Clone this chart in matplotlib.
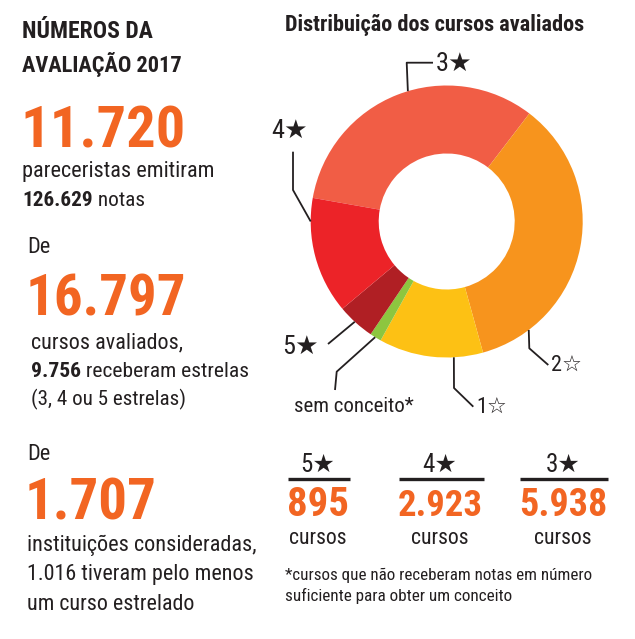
import matplotlib
matplotlib.use('Agg')
import matplotlib.pyplot as plt
import numpy as np
from matplotlib import font_manager

# --- dados ---
titulo = ['NÚMEROS DA', 'AVALIAÇÃO 2017']
pareceristas = '11.720'
notas = '126.629'
cursos_total = '16.797'
cursos_estrelas = '9.756'
instituicoes = '1.707'
inst_estrelas = '1.016'

# fatias do donut (em cursos)
fatias = ['3★', '2☆', '1☆', 'sem conceito*', '5★', '4★']
valores = [5480, 5930, 2080, 230, 750, 2330]
cores = ['#F15D45', '#F7941D', '#FDC114', '#8DC63F', '#B01F24', '#EC2328']

destaques = ['5★', '4★', '3★']
destaques_n = ['895', '2.923', '5.938']

laranja = '#F26522'
preto = '#231F20'

# procura uma fonte estreita, se houver
fm = font_manager.fontManager
nomes = {f.name for f in fm.ttflist}
fonte, largura = 'Roboto' if 'Roboto' in nomes else 'DejaVu Sans', 'normal'
for p in ['Liberation Sans Narrow', 'Roboto Condensed', 'Open Sans Condensed',
          'Noto Sans Condensed', 'Noto Sans SemiCondensed', 'DejaVu Sans Condensed']:
    if p in nomes:
        fonte = p
        break
else:
    cond = [f for f in fm.ttflist if f.stretch in ('condensed', 'semi-condensed')
            and f.name in ('Noto Sans', 'DejaVu Sans', 'Roboto', 'Open Sans', 'Liberation Sans')]
    if cond:
        fonte, largura = cond[0].name, cond[0].stretch
plt.rcParams['font.family'] = [fonte, 'DejaVu Sans']
plt.rcParams['font.stretch'] = largura

W, H = 635, 639
fig = plt.figure(figsize=(W / 100, H / 100), dpi=100)

# donut
cx, cy, R = 446.7, 221.5, 136
ax = fig.add_axes([(cx - R) / W, 1 - (cy + R) / H, 2 * R / W, 2 * R / H])
wedges, _ = ax.pie(valores, colors=cores, startangle=170, counterclock=False,
                   radius=1, wedgeprops=dict(width=0.5, linewidth=0))
ax.set_xlim(-1, 1)
ax.set_ylim(-1, 1)
ax.set_aspect('equal')
ax.axis('off')

# camada em pixels para textos e linhas
lay = fig.add_axes([0, 0, 1, 1])
lay.set_xlim(0, W)
lay.set_ylim(H, 0)
lay.axis('off')
rend = fig.canvas.get_renderer()


def txt(x, y, s, size, w=None, **kw):
    # w: largura do texto na referencia, em px; a fonte diminui se passar
    kw.setdefault('color', preto)
    kw.setdefault('va', 'baseline')
    t = lay.text(x, y, s, fontsize=size, **kw)
    if w:
        lw = t.get_window_extent(rend).width
        if lw > w:
            t.set_fontsize(size * w / lw)
    return t


def misto(x, y, partes, size, w):
    ts = [txt(x, y, s, size, fontweight=p) for s, p in partes]
    tot = sum(t.get_window_extent(rend).width for t in ts)
    k = min(1, w / tot)
    for t in ts:
        t.set_fontsize(size * k)
        t.set_x(x)
        x += t.get_window_extent(rend).width


# coluna esquerda
txt(22, 38.5, titulo[0], 17, 131, fontweight='bold')
txt(22, 72, titulo[1], 17, 160, fontweight='bold')
txt(20, 148, pareceristas, 47, 165, fontweight='bold', color=laranja)
txt(22, 176.5, 'pareceristas emitiram', 16, 196)
misto(22, 206, [(notas, 'bold'), (' notas', 'normal')], 16, 123)

txt(27, 253, 'De', 16, 24)
txt(26, 315, cursos_total, 49, 160, fontweight='bold', color=laranja)
txt(31, 348, 'cursos avaliados,', 16, 152)
misto(31, 377, [(cursos_estrelas, 'bold'), (' receberam estrelas', 'normal')], 16, 219)
txt(31, 405, '(3, 4 ou 5 estrelas)', 16, 156)

txt(27, 460, 'De', 16, 24)
txt(25, 520, instituicoes, 47, 132, fontweight='bold', color=laranja)
txt(27, 550.5, 'instituições consideradas,', 16, 232)
txt(27, 580, inst_estrelas + ' tiveram pelo menos', 16, 227)
txt(27, 610.5, 'um curso estrelado', 16, 168)

# titulo do grafico
txt(285, 30.5, 'Distribuição dos cursos avaliados', 17, 300, fontweight='bold')

# rotulos com linhas de chamada: (fracao dentro da fatia, cotovelos, posicao do texto, alinhamento, tamanho)
chamadas = [
    (0.46, [(406.7, 62.7), (433, 62.7)], (436, 71), 'left', 19),
    (0.17, [(529.3, 348.3), (548.3, 365)], (551, 371), 'left', 16),
    (0.72, [(454, 388), (473.3, 406.7)], (476, 413), 'left', 16),
    (0.46, [(336.7, 371.7), (335, 390)], (354, 412), 'center', 15),
    (0.47, [(328, 344)], (300, 354), 'center', 19),
    (0.20, [(293, 190), (293, 151.7)], (290, 138), 'center', 19),
]
larg_rot = [34, 30, 34, 128, 37, 35]
for w, nome, (f, pts, (tx, ty), ha, sz), lw_ in zip(wedges, fatias, chamadas, larg_rot):
    ang = np.deg2rad(w.theta1 + f * (w.theta2 - w.theta1))
    x0, y0 = cx + R * np.cos(ang), cy - R * np.sin(ang)
    xs = [x0] + [p[0] for p in pts]
    ys = [y0] + [p[1] for p in pts]
    lay.plot(xs, ys, color=preto, lw=1.3, solid_capstyle='butt')
    txt(tx, ty, nome, sz, lw_ + 4, ha=ha)

# destaques embaixo
centros = [318, 440, 563]
linhas = [(288, 350), (399, 484), (520, 608)]
for c, (a, b), rot, n in zip(centros, linhas, destaques, destaques_n):
    txt(c, 471.5, rot, 18, 40, ha='center')
    lay.plot([a, b], [478.5, 478.5], color=preto, lw=2.4, solid_capstyle='butt')
    txt(c, 516, n, 31, b - a, ha='center', fontweight='bold', color=laranja)
    txt(c, 544, 'cursos', 17, 58, ha='center')

txt(285, 580, '*cursos que não receberam notas em número', 12.5, 308)
txt(285, 601.5, 'suficiente para obter um conceito', 12.5, 229)

fig.savefig('out.png', dpi=100, facecolor='white')
